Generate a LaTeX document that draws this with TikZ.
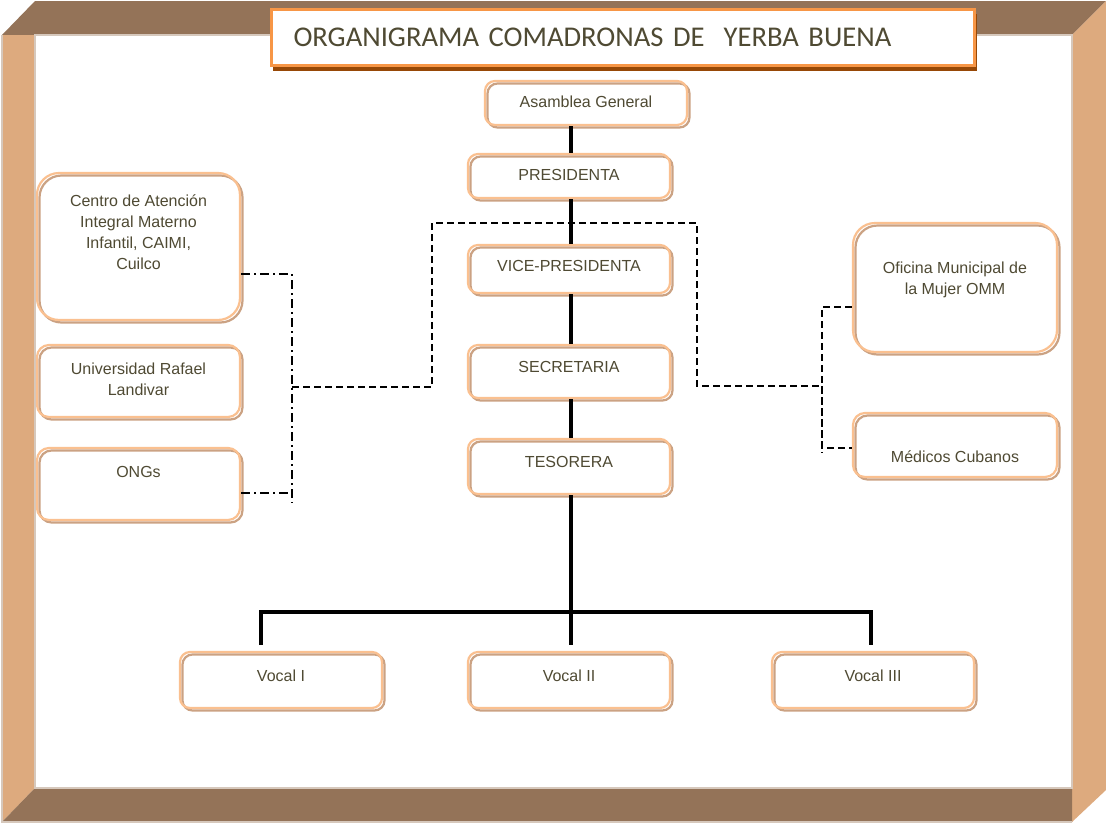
\documentclass[tikz,border=0pt]{standalone}
\usepackage{fontspec}
\setmainfont{Liberation Sans}
\newfontfamily\titlefont{Carlito}
\usetikzlibrary{calc}
\definecolor{framedark}{HTML}{947358}
\definecolor{framelight}{HTML}{DDAA7E}
\definecolor{frameedge}{HTML}{D6C8BC}
\definecolor{boxor}{HTML}{FAC090}
\definecolor{boxsh}{HTML}{CBA283}
\definecolor{titleor}{HTML}{F79646}
\definecolor{titlesh}{HTML}{974806}
\definecolor{txtc}{HTML}{4F4A33}
\tikzset{
  box/.style={draw=boxor, line width=2.2pt, rounded corners=#1, inner sep=0pt,
    preaction={draw=boxsh, line width=2.2pt, transform canvas={shift={(2.5pt,-2.5pt)}}}},
  box/.default=10pt,
  txt/.style={text=txtc, font=\fontsize{16}{21}\selectfont, align=center, inner sep=0pt},
  mainline/.style={line width=3.5pt, black},
  dashline/.style={line width=1.8pt, black, dash pattern=on 7pt off 4pt},
  dotdash/.style={line width=1.8pt, black, dash pattern=on 9pt off 4pt on 2pt off 4pt},
}
\begin{document}
\begin{tikzpicture}[x=1pt,y=-1pt]
\useasboundingbox (0,0) rectangle (1106,825);
% frame
\fill[white] (0,0) rectangle (1106,825);
\fill[framedark] (2,35) -- (35,1) -- (1106,1) -- (1072,35) -- cycle;
\fill[framelight] (1072,35) -- (1106,1) -- (1106,790) -- (1072,822) -- cycle;
\fill[framelight] (2,35) -- (35,35) -- (35,788) -- (2,822) -- cycle;
\fill[framedark] (2,822) -- (35,788) -- (1072,788) -- (1072,822) -- cycle;
\draw[frameedge, line width=1.5pt] (35,35) rectangle (1072,788);
\draw[frameedge, line width=1.5pt] (2,35) -- (2,822) -- (1072,822);
% title
\fill[titlesh] (273,14) rectangle (977,71);
\node[draw=titleor, line width=3pt, fill=white, anchor=north west, minimum width=703pt, minimum height=56pt,
  text width=659pt, inner xsep=22pt, align=left, text=txtc, font=\titlefont\fontsize{28.6}{34}\selectfont]
  (title) at (270,8) {ORGANIGRAMA COMADRONAS DE\ \ YERBA BUENA};
% central boxes
\node[box, minimum width=202pt, minimum height=44pt] (asam) at (586,103) {};
\node[box, minimum width=202pt, minimum height=44pt] (pres) at (569,176) {};
\node[box, minimum width=202pt, minimum height=48pt] (vice) at (569,269) {};
\node[box, minimum width=202pt, minimum height=53pt] (sec) at (569,371.5) {};
\node[box, minimum width=202pt, minimum height=55pt] (tes) at (569,466.5) {};
\node[box, minimum width=202pt, minimum height=56pt] (v1) at (281,680) {};
\node[box, minimum width=202pt, minimum height=56pt] (v2) at (569,680) {};
\node[box, minimum width=202pt, minimum height=56pt] (v3) at (873,680) {};
\node[box=22pt, minimum width=203pt, minimum height=147pt] (centro) at (138.5,246.5) {};
\node[box=12pt, minimum width=203pt, minimum height=72pt] (univ) at (138.5,381) {};
\node[box=12pt, minimum width=203pt, minimum height=72pt] (ongs) at (138.5,484) {};
\node[box=22pt, minimum width=204pt, minimum height=129pt] (ofi) at (955,287.5) {};
\node[box=12pt, minimum width=204pt, minimum height=64pt] (med) at (955,445) {};
% texts
\node[txt] (asamT) at (586,102) {Asamblea General};
\node[txt] (presT) at (569,175) {PRESIDENTA};
\node[txt] (viceT) at (569,266) {VICE-PRESIDENTA};
\node[txt] (secT) at (569,367) {SECRETARIA};
\node[txt] (tesT) at (569,462) {TESORERA};
\node[txt] (v1T) at (281,676) {Vocal I};
\node[txt] (v2T) at (569,676) {Vocal II};
\node[txt] (v3T) at (873,676) {Vocal III};
\node[txt] (centroT) at (138.5,232) {Centro de Atención\\Integral Materno\\Infantil, CAIMI,\\Cuilco};
\node[txt] (univT) at (138.5,379) {Universidad Rafael\\Landivar};
\node[txt] (ongsT) at (138.5,472) {ONGs};
\node[txt] (ofiT) at (955,280) {Oficina Municipal de\\la Mujer OMM};
\node[txt] (medT) at (955,457) {Médicos Cubanos};
% coordinates
\coordinate (bus) at (571,612);
\coordinate (b1) at (261,612);
\coordinate (b3) at (871,612);
\coordinate (s1) at (261,645);
\coordinate (s2) at (571,645);
\coordinate (s3) at (871,645);
\coordinate (lv) at (292,387);
\coordinate (dl) at (432,223);
\coordinate (dr) at (697,223);
\coordinate (rv) at (822,386);
% dashed connections (drawn before main line)
\draw[dashline] (lv) -| (dl) -- (dr) |- (rv);
\draw[dashline] (ofi.west |- 0,307) -| (rv) |- ([yshift=-3pt]med.west);
\draw[dashline] (rv) -- (822,453);
\draw[dotdash] (centro.east |- 0,274) -| (292,503);
\draw[dotdash] (ongs.east |- 0,493) -- (292,493);
% main line
\draw[mainline] (asam.south -| bus) -- (pres.north -| bus);
\draw[mainline] (pres.south -| bus) -- (vice.north -| bus);
\draw[mainline] (vice.south -| bus) -- (sec.north -| bus);
\draw[mainline] (sec.south -| bus) -- (tes.north -| bus);
\draw[mainline] (tes.south -| bus) -- (bus);
\draw[mainline] (s1) -- (b1) -- (b3) -- (s3);
\draw[mainline] (bus) -- (s2);
\end{tikzpicture}
\end{document}
